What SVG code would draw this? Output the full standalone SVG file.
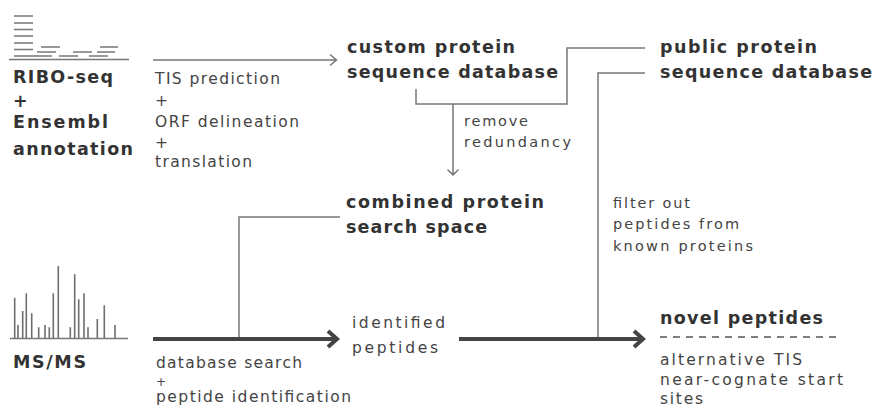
<svg xmlns="http://www.w3.org/2000/svg" width="875" height="412" viewBox="0 0 875 412">
<style>
.b{font-family:"DejaVu Sans","Liberation Sans",sans-serif;font-weight:700;font-size:17.5px;fill:#333}
.r{font-family:"DejaVu Sans","Liberation Sans",sans-serif;font-size:15.5px;fill:#444}
.s{font-size:14.5px}
.p{font-size:12px}
.thin{fill:none;stroke:#777;stroke-width:1.5}
.bold{fill:none;stroke:#444;stroke-width:4}
.icon{stroke:#777;stroke-width:1.6;fill:none}
.spec{stroke:#6e6e6e;stroke-width:1.6;fill:none}
</style>
<rect width="875" height="412" fill="#fff"/>
<g id="node-ribo">
<path class="icon" d="M14,16H33M14,23H33M14,29.5H33M14,36H33M14,43H33M14,49.5H33M14,56H52M41,47H60M37,52H56M59,56H78M73,52H92M89,56H108M97,52H115M100,47H118"/>
<path class="icon" d="M9,59.5H129" stroke-width="1.8"/>
<text class="b" x="13" y="83" textLength="100" lengthAdjust="spacing">RIBO-seq</text>
<text class="b" x="13" y="107">+</text>
<text class="b" x="13" y="128" textLength="95" lengthAdjust="spacing">Ensembl</text>
<text class="b" x="13" y="155" textLength="120" lengthAdjust="spacing">annotation</text>
</g>
<g id="node-msms">
<path class="spec" d="M14.7,338V297.7M18,338V325M22.7,338V311M26.3,338V293.3M31.7,338V313.3M38.7,338V327.3M45,338V325M49.3,338V327.3M53.3,338V293.3M58.3,338V266M70.3,338V327.3M74.7,338V274.3M78.7,338V299.3M84,338V293.3M88,338V327.3M97.3,338V319M104.3,338V305.3M115,338V325"/>
<path class="icon" d="M10,338.5H128" stroke-width="1.8"/>
<text class="b" x="13" y="368" textLength="73" lengthAdjust="spacing">MS/MS</text>
</g>
<g id="node-custom-db">
<text class="b" x="347" y="53" textLength="168" lengthAdjust="spacing">custom protein</text>
<text class="b" x="347" y="78" textLength="211" lengthAdjust="spacing">sequence database</text>
</g>
<g id="node-public-db">
<text class="b" x="660" y="53" textLength="157" lengthAdjust="spacing">public protein</text>
<text class="b" x="660" y="78" textLength="212" lengthAdjust="spacing">sequence database</text>
</g>
<g id="node-combined">
<text class="b" x="346" y="208" textLength="198" lengthAdjust="spacing">combined protein</text>
<text class="b" x="346" y="233" textLength="141" lengthAdjust="spacing">search space</text>
</g>
<g id="node-identified">
<text class="r" x="352" y="328" textLength="93" lengthAdjust="spacing">identified</text>
<text class="r" x="352" y="353" textLength="86" lengthAdjust="spacing">peptides</text>
</g>
<g id="node-novel">
<text class="b" x="660" y="324" textLength="163" lengthAdjust="spacing">novel peptides</text>
<path d="M660,337H841" stroke="#555" stroke-width="1.5" stroke-dasharray="7 6"/>
<text class="r" x="660" y="365" textLength="142" lengthAdjust="spacing">alternative TIS</text>
<text class="r" x="660" y="385" textLength="183" lengthAdjust="spacing">near-cognate start</text>
<text class="r" x="660" y="404" textLength="43" lengthAdjust="spacing">sites</text>
</g>
<g id="connectors">
<path class="thin" d="M153,60H336M330,54.5L336.5,60L330,65.5"/>
<path class="thin" d="M645,48H567V104H416V89"/>
<path class="thin" d="M453,104V175M447.5,169.5L453,175L458.5,169.5"/>
<path class="thin" d="M645,73H598V339"/>
<path class="thin" d="M340,217H239V339"/>
<path class="bold" d="M153,339H336M328,331L337,339L328,347"/>
<path class="bold" d="M459,339H642M634,331L643,339L634,347"/>
<text class="r" x="155" y="84" textLength="125" lengthAdjust="spacing">TIS prediction</text>
<text class="r" x="155" y="106">+</text>
<text class="r" x="155" y="127" textLength="144" lengthAdjust="spacing">ORF delineation</text>
<text class="r" x="155" y="148">+</text>
<text class="r" x="155" y="167" textLength="97" lengthAdjust="spacing">translation</text>
<text class="r s" x="464" y="126" textLength="64" lengthAdjust="spacing">remove</text>
<text class="r s" x="464" y="147" textLength="107" lengthAdjust="spacing">redundancy</text>
<text class="r" x="156" y="368" textLength="146" lengthAdjust="spacing">database search</text>
<text class="r p" x="156" y="386">+</text>
<text class="r" x="156" y="402" textLength="195" lengthAdjust="spacing">peptide identification</text>
<text class="r s" x="613" y="208" textLength="77" lengthAdjust="spacing">filter out</text>
<text class="r s" x="613" y="229" textLength="126" lengthAdjust="spacing">peptides from</text>
<text class="r s" x="613" y="251" textLength="140" lengthAdjust="spacing">known proteins</text>
</g>
</svg>
